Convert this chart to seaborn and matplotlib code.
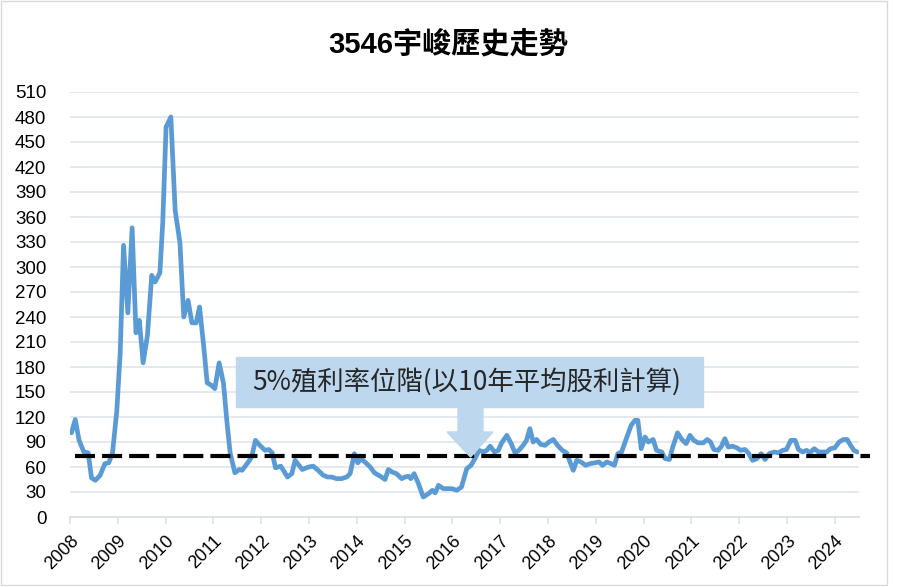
import numpy as np
import pandas as pd
import matplotlib.pyplot as plt
import seaborn as sns
from matplotlib.patches import Rectangle, Polygon

# ── data ──────────────────────────────────────────────────
years = [
    2008.03, 2008.11, 2008.19, 2008.29, 2008.38, 2008.45, 2008.53, 2008.63, 2008.73, 2008.81,
    2008.89, 2008.98, 2009.05, 2009.12, 2009.21, 2009.30, 2009.38, 2009.45, 2009.53, 2009.62,
    2009.71, 2009.78, 2009.88, 2009.94, 2010.01, 2010.11, 2010.20, 2010.30, 2010.38, 2010.47,
    2010.55, 2010.64, 2010.71, 2010.79, 2010.87, 2010.96, 2011.03, 2011.12, 2011.21, 2011.28,
    2011.35, 2011.45, 2011.54, 2011.60, 2011.73, 2011.80, 2011.88, 2011.97, 2012.08, 2012.16,
    2012.23, 2012.30, 2012.41, 2012.55, 2012.64, 2012.71, 2012.79, 2012.86, 2012.99, 2013.09,
    2013.19, 2013.30, 2013.39, 2013.47, 2013.58, 2013.68, 2013.79, 2013.86, 2013.95, 2014.02,
    2014.09, 2014.17, 2014.28, 2014.37, 2014.49, 2014.59, 2014.66, 2014.74, 2014.83, 2014.94,
    2015.01, 2015.08, 2015.13, 2015.20, 2015.29, 2015.39, 2015.50, 2015.58, 2015.64, 2015.71,
    2015.81, 2015.91, 2015.99, 2016.09, 2016.19, 2016.23, 2016.30, 2016.39, 2016.47, 2016.56,
    2016.65, 2016.72, 2016.79, 2016.88, 2016.96, 2017.03, 2017.14, 2017.23, 2017.31, 2017.39,
    2017.48, 2017.55, 2017.62, 2017.69, 2017.76, 2017.85, 2017.94, 2018.02, 2018.11, 2018.20,
    2018.30, 2018.39, 2018.46, 2018.53, 2018.60, 2018.69, 2018.79, 2018.88, 2018.98, 2019.07,
    2019.14, 2019.23, 2019.32, 2019.39, 2019.46, 2019.54, 2019.65, 2019.74, 2019.82, 2019.88,
    2019.95, 2020.03, 2020.10, 2020.20, 2020.27, 2020.38, 2020.45, 2020.54, 2020.61, 2020.71,
    2020.80, 2020.89, 2020.97, 2021.05, 2021.14, 2021.25, 2021.33, 2021.40, 2021.47, 2021.56,
    2021.63, 2021.70, 2021.77, 2021.86, 2021.95, 2022.03, 2022.12, 2022.19, 2022.28, 2022.37,
    2022.46, 2022.54, 2022.63, 2022.73, 2022.82, 2022.91, 2022.99, 2023.08, 2023.17, 2023.24,
    2023.33, 2023.41, 2023.48, 2023.57, 2023.66, 2023.75, 2023.83, 2023.91, 2024.00, 2024.09,
    2024.18, 2024.26, 2024.33, 2024.40, 2024.47,
]
price = [
    101, 117, 92, 78, 77, 47, 44, 50, 64, 65,
    77, 128, 197, 326, 245, 347, 221, 236, 185, 218,
    290, 282, 293, 353, 468, 480, 368, 329, 240, 260,
    233, 233, 252, 209, 161, 158, 154, 185, 161, 116,
    77, 53, 57, 56, 66, 72, 92, 86, 80, 81,
    77, 59, 61, 48, 52, 68, 62, 57, 60, 61,
    56, 50, 48, 48, 46, 46, 48, 52, 76, 65,
    70, 66, 60, 53, 49, 45, 57, 54, 52, 46,
    48, 49, 46, 52, 40, 24, 28, 32, 29, 38,
    34, 34, 34, 32, 36, 44, 58, 62, 70, 80,
    78, 80, 85, 78, 80, 89, 98, 88, 77, 80,
    86, 92, 106, 90, 93, 87, 86, 90, 93, 86,
    80, 77, 66, 56, 68, 66, 62, 64, 65, 66,
    62, 66, 64, 62, 76, 78, 96, 110, 116, 116,
    82, 96, 90, 93, 80, 78, 70, 69, 84, 101,
    93, 88, 98, 92, 89, 89, 93, 90, 81, 80,
    85, 94, 84, 85, 83, 80, 81, 77, 68, 70,
    76, 69, 76, 78, 77, 80, 81, 92, 92, 81,
    78, 80, 77, 82, 78, 78, 78, 82, 83, 90,
    93, 93, 86, 80, 78,
]
yield_level = 73
year_ticks = list(range(2008, 2025))
y_ticks = list(range(0, 511, 30))
title = "3546宇峻歷史走勢"
note = "5%殖利率位階(以10年平均股利計算)"

W, H = 897, 587


def fx(px):
    return px / W


def fy(py):
    return 1 - py / H


sns.set_theme(style="white")
plt.rcParams["font.family"] = ["Liberation Sans", "Noto Sans CJK TC", "DejaVu Sans"]

fig = plt.figure(figsize=(W / 100, H / 100), dpi=100)
ax = fig.add_axes([fx(70), fy(517), (858.7 - 70) / W, 425 / H])

df = pd.DataFrame({"year": years, "price": price})
sns.lineplot(data=df, x="year", y="price", ax=ax, color="#5B9BD5",
             linewidth=3.4, zorder=3)
ax.hlines(yield_level, 2008.1, 2024.74, colors="black",
          linestyles=(0, (4.8, 1.7)), linewidth=3.0, clip_on=False, zorder=4)

ax.set_xlim(2008, 2024.5)
ax.set_ylim(0, 510)
ax.set_yticks(y_ticks)
ax.set_xticks(year_ticks)
ax.set_xticklabels([str(y) for y in year_ticks], rotation=45, ha="right",
                   rotation_mode="anchor")
ax.set_xlabel("")
ax.set_ylabel("")
ax.yaxis.grid(True, color="#e3e6ea", linewidth=1.3)
ax.xaxis.grid(False)
for s in ["top", "right", "left"]:
    ax.spines[s].set_visible(False)
ax.spines["bottom"].set_color("#dcdfe4")
ax.spines["bottom"].set_linewidth(1.3)
ax.tick_params(axis="y", left=False, pad=11, labelsize=13.5, labelcolor="black")
ax.tick_params(axis="x", bottom=True, length=5, width=1.2, color="#dcdfe4",
               pad=6, labelsize=13, labelcolor="black")

# title
fig.text(0.5, fy(45), title, ha="center", va="center", fontsize=21,
         fontweight="bold", color="black")

# annotation box + block arrow
box_col = "#BDD7EE"
fig.add_artist(Rectangle((fx(236), fy(407)), (703 - 236) / W, 50 / H,
                         transform=fig.transFigure, color=box_col, zorder=5))
arrow = [(458, 407), (483, 407), (483, 432), (493, 432), (470.5, 457),
         (447, 432), (458, 432)]
fig.add_artist(Polygon([(fx(x), fy(y)) for x, y in arrow], closed=True,
                       transform=fig.transFigure, color=box_col, zorder=5))
fig.text(fx(252), fy(382), note, ha="left", va="center", fontsize=19,
         color="#262626", family=["Noto Sans CJK TC", "DejaVu Sans"], zorder=6)

# chart border
fig.add_artist(Rectangle((fx(1), fy(585)), 886 / W, 584 / H,
                         transform=fig.transFigure, fill=False,
                         edgecolor="#d9d9d9", linewidth=1.0))

fig.savefig("out.png", dpi=100)
